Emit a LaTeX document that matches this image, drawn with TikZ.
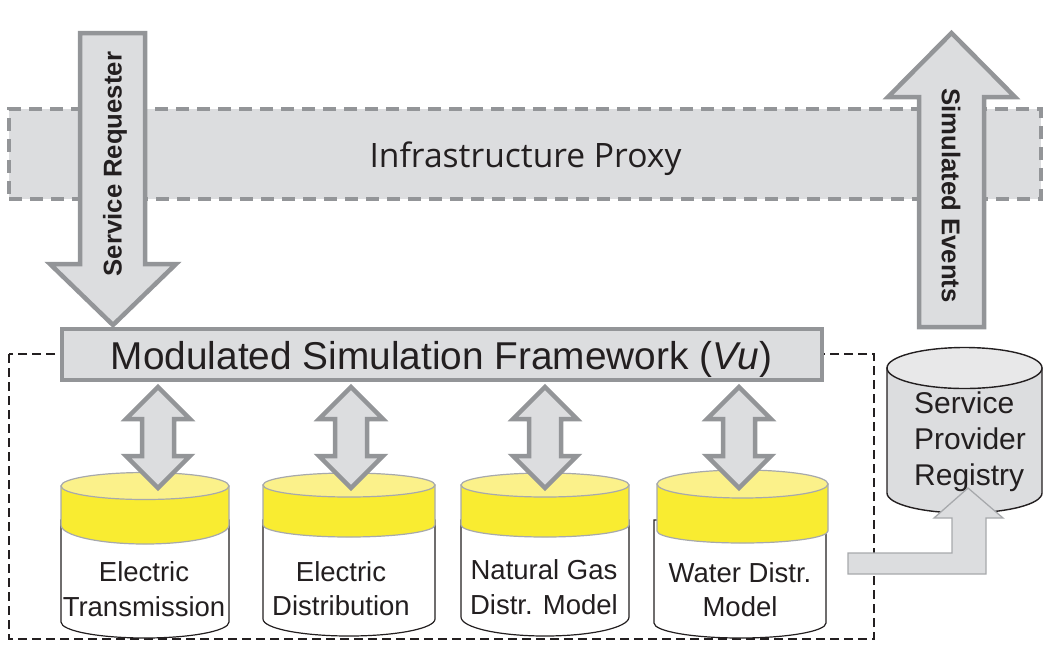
\documentclass[tikz,border=0pt]{standalone}
\usepackage{fontspec}
\setmainfont{Liberation Sans}
\newfontfamily\proxyfont{Open Sans}
\definecolor{fillgrey}{HTML}{DCDDDF}
\definecolor{strokegrey}{HTML}{939598}
\definecolor{thingrey}{HTML}{A7A9AC}
\definecolor{inkblack}{HTML}{231F20}
\definecolor{bandyellow}{HTML}{F9EC31}
\definecolor{lidyellow}{HTML}{FBF18A}
\definecolor{lidgrey}{HTML}{E8E8E9}
\tikzset{
  blockarrow/.style={draw=strokegrey,fill=fillgrey,line width=4.5pt,miter limit=10},
  bodyline/.style={draw=inkblack,line width=1.2pt},
  bandline/.style={draw=thingrey,line width=1.2pt},
  frame/.style={draw=inkblack,line width=1.3pt,dash pattern=on 9pt off 5pt},
  lbl/.style={text=inkblack,align=center,inner sep=0pt,font=\fontsize{27.5}{34.5}\selectfont},
  arrowlbl/.style={text=inkblack,inner sep=0pt,font=\bfseries\fontsize{25.7}{28}\selectfont},
}
% #1 x centre, #2 x half width of body, #3 y of top of body, #4 side bottom, #5 ry bottom
\newcommand{\bodycyl}[5]{%
  \path[fill=white,bodyline] ({#1-#2},#3) -- ({#1-#2},#4)
     arc[start angle=180,end angle=0,x radius=#2,y radius=#5]
     -- ({#1+#2},#3) -- cycle;}
% #1 x centre, #2 half width, #3 y lid centre, #4 ry lid, #5 band side bottom, #6 ry band
\newcommand{\bandcyl}[6]{%
  \path[fill=bandyellow,bandline] ({#1-#2},#3) -- ({#1-#2},#5)
     arc[start angle=180,end angle=0,x radius=#2,y radius=#6]
     -- ({#1+#2},#3) -- cycle;
  \path[fill=lidyellow,bandline] (#1,#3) ellipse[x radius=#2,y radius=#4];}
% double arrow at x centre #1
\newcommand{\dblarrow}[1]{%
  \path[blockarrow] (#1,387) -- ({#1+32},419) -- ({#1+16},419) -- ({#1+16},456)
     -- ({#1+32},456) -- (#1,488) -- ({#1-32},456) -- ({#1-16},456)
     -- ({#1-16},419) -- ({#1-32},419) -- cycle;}
\begin{document}
\begin{tikzpicture}[x=1pt,y=-1pt]
\useasboundingbox (0,0) rectangle (1054,649);
% dashed frame
\draw[frame] (9,354) rectangle (874,639);
% proxy
\node[draw=strokegrey,fill=fillgrey,line width=4.5pt,dash pattern=on 13pt off 8pt,outer sep=0pt,
  minimum width=1032pt,minimum height=90pt,inner sep=0pt,anchor=north west] (proxy) at (9,109) {};
\node[text=inkblack,inner sep=0pt,font=\proxyfont\fontsize{33.6}{36}\selectfont] (proxylabel) at (525.5,159) {Infrastructure Proxy};
% service requester
\path[blockarrow] (80,33) -- (145,33) -- (145,264) -- (176,264) -- (113,325) -- (50,264) -- (80,264) -- cycle;
\node[arrowlbl,rotate=90] (req) at (115,164) {Service Requester};
% simulated events
\path[blockarrow] (919,327) -- (984,327) -- (984,97) -- (1015,97) -- (951.5,33) -- (888,97) -- (919,97) -- cycle;
\node[arrowlbl,rotate=-90] (ev) at (951,195.5) {Simulated Events};
% cylinders: bodies
\bodycyl{145}{84}{520}{622}{16}
\bodycyl{349}{86}{520}{619}{17}
\bodycyl{545}{84}{520}{617}{19}
\bodycyl{740}{86}{520}{623}{15}
% bands
\bandcyl{145}{84}{486}{13.5}{525}{19}
\bandcyl{349}{86}{485}{12}{525}{12}
\bandcyl{545}{84}{485}{12}{525}{12}
\bandcyl{742.5}{85.5}{484}{14}{531}{12}
% framework
\node[draw=strokegrey,fill=fillgrey,line width=4.5pt,minimum width=760pt,minimum height=51pt,outer sep=0pt,
  inner sep=0pt,anchor=north west] (vu) at (62,329) {};
\node[text=inkblack,inner sep=0pt,font=\fontsize{38.8}{40}\selectfont] (vulabel) at (441.5,359) {Modulated Simulation Framework (\textit{Vu})};
% double arrows
\dblarrow{158}
\dblarrow{351}
\dblarrow{545}
\dblarrow{739}
% labels
\node[lbl] (c1) at (144,589) {Electric\\Transmission};
\node[lbl] (c2) at (341,588.5) {Electric\\Distribution};
\node[lbl] (c3) at (544,587) {Natural Gas\\Distr. Model};
\node[lbl] (c4) at (740,589.5) {Water Distr.\\Model};
% registry
\path[fill=fillgrey,bodyline,line width=1.4pt] (887,368) -- (887,493)
   arc[start angle=180,end angle=0,x radius=77.5,y radius=20] -- (1042,368) -- cycle;
\path[fill=lidgrey,bodyline,line width=1.4pt] (964.5,368) ellipse[x radius=77.5,y radius=20.5];
\node[lbl,align=left,anchor=north west,font=\fontsize{30}{36}\selectfont] (reg) at (914,392) {Service\\Provider\\Registry};
% L arrow
\path[fill=fillgrey,draw=thingrey,line width=1.3pt] (848,553) -- (952,553) -- (952,518) -- (934,518)
  -- (968,488) -- (1003,518) -- (986,518) -- (986,574) -- (848,574) -- cycle;
\end{tikzpicture}
\end{document}
